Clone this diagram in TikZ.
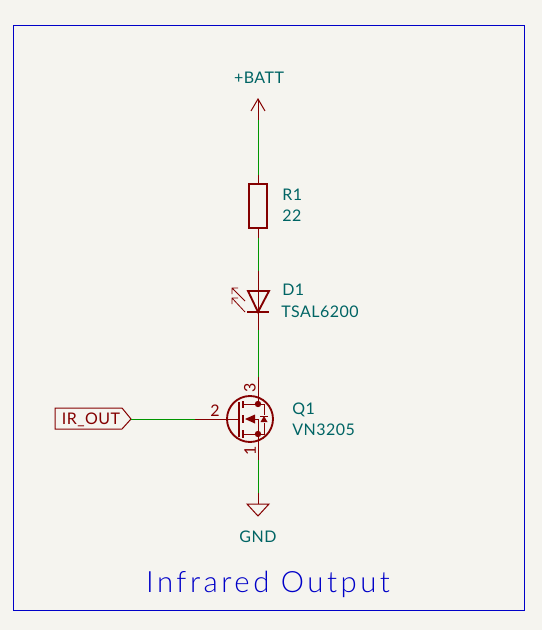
\documentclass[tikz,border=0pt]{standalone}
\usepackage{fontspec}
\setmainfont{Lato}
\newfontfamily\sch[LetterSpace=3]{Lato}
\newfontfamily\ttl[LetterSpace=12]{Lato Light}
\usetikzlibrary{arrows.meta}
\definecolor{bgc}{HTML}{F5F4EF}
\definecolor{wirec}{HTML}{009600}
\definecolor{comp}{HTML}{840000}
\definecolor{txt}{HTML}{006464}
\definecolor{frm}{HTML}{0000C8}
\tikzset{
 x=0.75pt,y=-0.75pt,
 wire/.style={draw=wirec,line width=0.75pt},
 pin/.style={draw=comp,line width=0.75pt},
 body/.style={draw=comp,line width=1.4pt},
 thin body/.style={draw=comp,line width=0.75pt},
 lbl/.style={text=txt,font=\sch\fontsize{12}{13}\selectfont,inner sep=0pt,anchor=base west},
 lblc/.style={lbl,anchor=base},
 pinnum/.style={text=comp,font=\sch\fontsize{12}{13}\selectfont,inner sep=0pt},
}
\begin{document}
\begin{tikzpicture}
\useasboundingbox (0,0) rectangle (542,630);
\fill[bgc] (0,0) rectangle (542,630);
\node[draw=frm,line width=0.8pt,minimum width=511*0.75pt,minimum height=585*0.75pt,inner sep=0pt,anchor=north west] (frame) at (13,25) {};
\node[text=frm,font=\ttl\fontsize{22}{24}\selectfont,inner sep=0pt,anchor=base] (title) at (268,592) {Infrared Output};
% junction coordinates
\coordinate (vcc) at (258,99);
\coordinate (vccw) at (258,120.5);
\coordinate (rtopw) at (258,175);
\coordinate (rtop) at (258,184);
\coordinate (rbot) at (258,228);
\coordinate (rbotw) at (258,238);
\coordinate (dtopw) at (258,271);
\coordinate (dtop) at (258,291);
\coordinate (dbot) at (258,312);
\coordinate (dbotw) at (258,330);
\coordinate (qdw) at (258,377);
\coordinate (qd) at (258,404);
\coordinate (qs) at (258,434);
\coordinate (qsw) at (258,460);
\coordinate (gndw) at (258,493);
\coordinate (gnd) at (258,504);
\coordinate (gatew) at (195,419);
\coordinate (gate) at (239,419);
% power and ground symbols
\node[lblc] (batt) at (259,84) {+BATT};
\draw[pin] (251,111) -- (vcc) -- (265,111);
\draw[pin] (vcc) -- (vccw);
\draw[wire] (vccw) -- (rtopw);
\draw[pin] (rtopw) -- (rtop);
% resistor
\node[draw=comp,line width=1.4pt,minimum width=18*0.75pt,minimum height=44*0.75pt,inner sep=0pt] (r1) at (258,206) {};
\node[lbl] (r1ref) at (282,201) {R1};
\node[lbl] (r1val) at (282,222) {22};
\draw[pin] (r1.south) -- (rbotw);
\draw[wire] (rbotw) -- (dtopw);
\draw[pin] (dtopw) -- (dbot);
% LED
\draw[body,line join=miter] (248,291) -- (269,291) -- (258,312) -- cycle;
\draw[body] (247,312) -- (269,312);
\coordinate (a1s) at (245,301); \coordinate (a1e) at (232,288);
\coordinate (a2s) at (245,312); \coordinate (a2e) at (232,298);
\draw[draw=comp,line width=0.6pt] (a1s) -- (a1e) (232,294) -- (a1e) -- (238,288);
\draw[draw=comp,line width=0.6pt] (a2s) -- (a2e) (232,304) -- (a2e) -- (238,298);
\node[lbl] (d1ref) at (282,296) {D1};
\node[lbl] (d1val) at (281,317) {TSAL6200};
\draw[pin] (dbot) -- (dbotw);
\draw[wire] (dbotw) -- (qdw);
\draw[pin] (qdw) -- (qd);
% MOSFET
\node[circle,draw=comp,line width=1.4pt,minimum size=46*0.75pt,inner sep=0pt] (q1) at (250,419) {};
\draw[body] (239,402) -- (239,437);
\draw[body] (243,401) -- (243,408) (243,415) -- (243,423) (243,430) -- (243,438);
\draw[thin body] (243,404) -- (qd) (243,434) -- (qs) (252,419) -- (258,419) -- (qs);
\draw[thin body] (qd) -- (264,404) -- (264,415) (264,423) -- (264,434) -- (qs);
\fill[comp] (245,419) -- (255,414.5) -- (255,423.5) -- cycle;
\draw[thin body] (260,416) -- (268,416);
\fill[comp] (264,416) -- (260.5,422) -- (267.5,422) -- cycle;
\fill[comp] (qd) circle (3.2) (qs) circle (3.2);
\draw[pin] (gatew) -- (gate);
\draw[pin] (qs) -- (qsw);
\node[pinnum] (p2) at (215,411) {2};
\node[pinnum,rotate=90] (p3) at (250,388) {3};
\node[pinnum,rotate=90] (p1) at (250,451) {1};
\node[lbl] (q1ref) at (292,414) {Q1};
\node[lbl] (q1val) at (292,435) {VN3205};
\draw[wire] (qsw) -- (gndw);
\draw[pin] (gndw) -- (gnd);
\draw[pin,line join=miter] (247,504) -- (269,504) -- (258,516) -- cycle;
\node[lblc] (gndl) at (258,542) {GND};
% input label
\coordinate (in) at (131,419);
\draw[draw=comp,line width=0.75pt] (55,408) -- (122,408) -- (in) -- (122,429) -- (55,429) -- cycle;
\node[text=comp,font=\sch\fontsize{12}{13}\selectfont,inner sep=0pt,anchor=base] (irout) at (91,424) {IR\_OUT};
\draw[wire] (in) -- (gatew);
\end{tikzpicture}
\end{document}
